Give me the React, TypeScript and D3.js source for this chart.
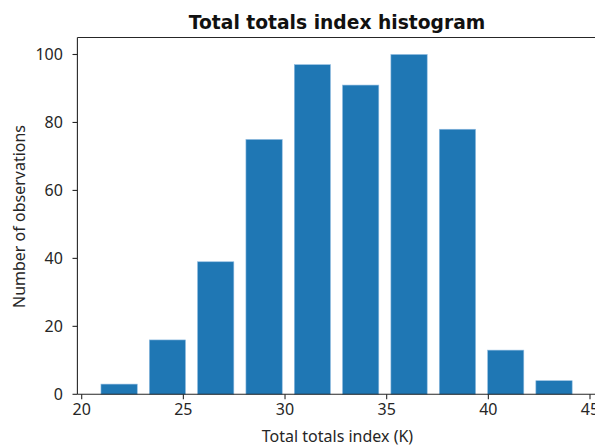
import React from "react";
import * as d3 from "d3";

const binEdges = [20.65, 23.03, 25.4, 27.78, 30.16, 32.53, 34.91, 37.29, 39.67, 42.04, 44.42];
const counts = [3, 16, 39, 75, 97, 91, 100, 78, 13, 4];
const xTicks = [20, 25, 30, 35, 40, 45];
const yTicks = [0, 20, 40, 60, 80, 100];
const rwidth = 0.75;

const W = 595;
const H = 448;
const TITLE_FONT = "DejaVu Sans, sans-serif";
const FONT = "Noto Sans, Open Sans, sans-serif";
const FS = 16;

export default function App() {
  const left = 77.4;
  const right = 596;
  const top = 37.5;
  const bottom = 394.3;
  const x = d3.scaleLinear().domain([20, 45]).range([81.7, 590]);
  const y = d3.scaleLinear().domain([0, 105]).range([bottom, top]);

  const bars = counts.map((c, i) => {
    const e0 = binEdges[i];
    const e1 = binEdges[i + 1];
    const w = e1 - e0;
    const c0 = e0 + (w * (1 - rwidth)) / 2;
    const c1 = c0 + w * rwidth;
    return { x0: x(c0), x1: x(c1), y: y(c), c };
  });

  return (
    <svg width={W} height={H} style={{ position: "absolute", left: 0, top: 0, background: "#fff" }}>
      <rect x={0} y={0} width={W} height={H} fill="#fff" />
      {bars.map((b, i) => (
        <rect
          key={i}
          x={b.x0}
          y={b.y}
          width={b.x1 - b.x0}
          height={bottom - b.y}
          fill="#1f77b4"
          stroke="#8fbbe0"
          strokeWidth={0.6}
        />
      ))}
      {/* spines */}
      <line x1={left} x2={left} y1={top} y2={bottom} stroke="#262626" strokeWidth={1.1} />
      <line x1={left} x2={right} y1={bottom} y2={bottom} stroke="#262626" strokeWidth={1.1} />
      <line x1={left} x2={right} y1={top} y2={top} stroke="#262626" strokeWidth={1.1} />
      <line x1={right} x2={right} y1={top} y2={bottom} stroke="#262626" strokeWidth={1.1} />
      {/* x ticks */}
      {xTicks.map((t) => (
        <g key={t}>
          <line x1={x(t)} x2={x(t)} y1={bottom} y2={bottom + 4.9} stroke="#262626" strokeWidth={1.1} />
          <text x={x(t)} y={bottom + 21} textAnchor="middle" fontFamily={FONT} fontSize={FS} fill="#262626">
            {t}
          </text>
        </g>
      ))}
      {/* y ticks */}
      {yTicks.map((t) => (
        <g key={t}>
          <line x1={left - 4.9} x2={left} y1={y(t)} y2={y(t)} stroke="#262626" strokeWidth={1.1} />
          <text x={left - 14.5} y={y(t)} dy="0.36em" textAnchor="end" fontFamily={FONT} fontSize={FS} fill="#262626">
            {t}
          </text>
        </g>
      ))}
      <text x={337} y={29} textAnchor="middle" fontFamily={TITLE_FONT} fontSize={18.7} fontWeight="bold" fill="#111">
        Total totals index histogram
      </text>
      <text x={337.5} y={442} textAnchor="middle" fontFamily={FONT} fontSize={FS} fill="#262626">
        Total totals index (K)
      </text>
      <text
        transform={`translate(25, 216.5) rotate(-90)`}
        textAnchor="middle"
        fontFamily={FONT}
        fontSize={FS}
        fill="#262626"
      >
        Number of observations
      </text>
    </svg>
  );
}
